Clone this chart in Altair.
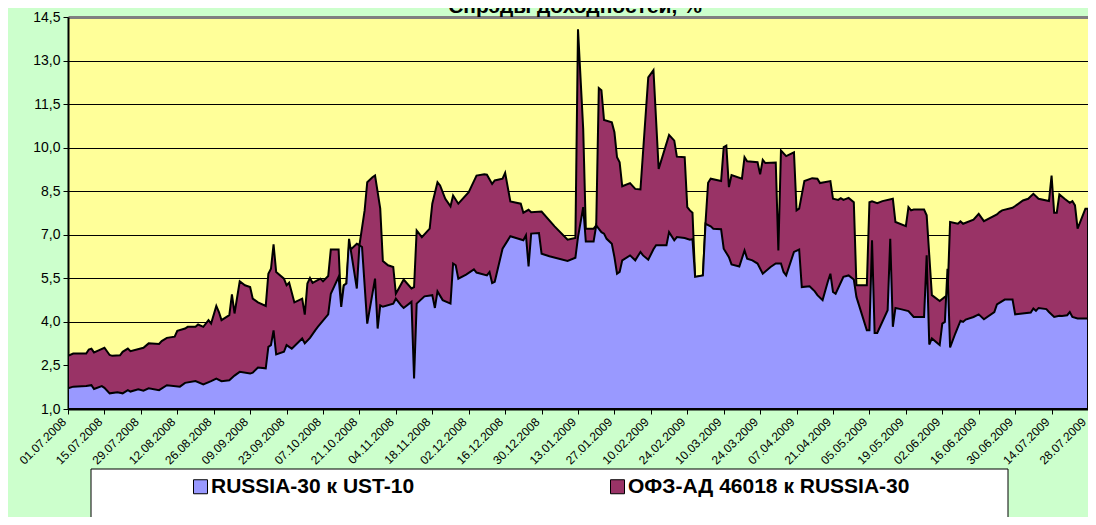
import altair as alt
import pandas as pd

TITLE = "Спрэды доходностей, %"
SERIES = ["RUSSIA-30 к UST-10", "ОФЗ-АД 46018 к RUSSIA-30"]
COLORS = ["#9999FF", "#993366"]

TICK_LABELS = ["01.07.2008", "15.07.2008", "29.07.2008", "12.08.2008", "26.08.2008",
               "09.09.2008", "23.09.2008", "07.10.2008", "21.10.2008", "04.11.2008",
               "18.11.2008", "02.12.2008", "16.12.2008", "30.12.2008", "13.01.2009",
               "27.01.2009", "10.02.2009", "24.02.2009", "10.03.2009", "24.03.2009",
               "07.04.2009", "21.04.2009", "05.05.2009", "19.05.2009", "02.06.2009",
               "16.06.2009", "30.06.2009", "14.07.2009", "28.07.2009"]

Y_TICKS = [1.0, 2.5, 4.0, 5.5, 7.0, 8.5, 10.0, 11.5, 13.0, 14.5]

# upper outline (top of the maroon band)
top_dates = [
    "2008-07-01", "2008-07-03", "2008-07-08", "2008-07-09", "2008-07-10", "2008-07-11",
    "2008-07-13", "2008-07-15", "2008-07-17", "2008-07-18", "2008-07-21", "2008-07-22",
    "2008-07-24", "2008-07-25", "2008-07-30", "2008-08-01", "2008-08-05", "2008-08-06",
    "2008-08-08", "2008-08-11", "2008-08-12", "2008-08-15", "2008-08-16", "2008-08-19",
    "2008-08-20", "2008-08-22", "2008-08-24", "2008-08-25", "2008-08-27", "2008-08-28",
    "2008-08-29", "2008-09-01", "2008-09-02", "2008-09-03", "2008-09-05", "2008-09-07",
    "2008-09-09", "2008-09-10", "2008-09-12", "2008-09-15", "2008-09-16", "2008-09-17",
    "2008-09-18", "2008-09-19", "2008-09-22", "2008-09-23", "2008-09-24", "2008-09-26",
    "2008-09-29", "2008-09-30", "2008-10-01", "2008-10-02", "2008-10-03", "2008-10-06",
    "2008-10-07", "2008-10-09", "2008-10-10", "2008-10-13", "2008-10-14", "2008-10-15",
    "2008-10-16", "2008-10-17", "2008-10-18", "2008-10-20", "2008-10-21", "2008-10-23",
    "2008-10-24", "2008-10-26", "2008-10-27", "2008-10-29", "2008-10-30", "2008-11-01",
    "2008-11-03", "2008-11-04", "2008-11-07", "2008-11-10", "2008-11-11", "2008-11-12",
    "2008-11-14", "2008-11-17", "2008-11-18", "2008-11-20", "2008-11-21", "2008-11-23",
    "2008-11-25", "2008-11-26", "2008-11-28", "2008-12-02", "2008-12-03", "2008-12-05",
    "2008-12-08", "2008-12-09", "2008-12-11", "2008-12-12", "2008-12-15", "2008-12-16",
    "2008-12-18", "2008-12-22", "2008-12-23", "2008-12-25", "2008-12-26", "2008-12-30",
    "2009-01-04", "2009-01-09", "2009-01-12", "2009-01-13", "2009-01-15", "2009-01-16",
    "2009-01-19", "2009-01-20", "2009-01-21", "2009-01-22", "2009-01-23", "2009-01-26",
    "2009-01-27", "2009-01-28", "2009-01-29", "2009-01-30", "2009-02-02", "2009-02-04",
    "2009-02-06", "2009-02-09", "2009-02-11", "2009-02-13", "2009-02-17", "2009-02-19",
    "2009-02-20", "2009-02-23", "2009-02-24", "2009-02-25", "2009-02-26", "2009-02-27",
    "2009-03-02", "2009-03-03", "2009-03-04", "2009-03-05", "2009-03-09", "2009-03-10",
    "2009-03-11", "2009-03-12", "2009-03-13", "2009-03-17", "2009-03-18", "2009-03-19",
    "2009-03-23", "2009-03-24", "2009-03-25", "2009-03-26", "2009-03-30", "2009-03-31",
    "2009-04-01", "2009-04-03", "2009-04-06", "2009-04-07", "2009-04-08", "2009-04-10",
    "2009-04-13", "2009-04-15", "2009-04-16", "2009-04-20", "2009-04-21", "2009-04-23",
    "2009-04-24", "2009-04-25", "2009-04-27", "2009-04-29", "2009-04-30", "2009-05-04",
    "2009-05-05", "2009-05-06", "2009-05-08", "2009-05-10", "2009-05-14", "2009-05-15",
    "2009-05-19", "2009-05-20", "2009-05-21", "2009-05-22", "2009-05-26", "2009-05-27",
    "2009-05-29", "2009-06-01", "2009-06-03", "2009-06-04", "2009-06-05", "2009-06-08",
    "2009-06-09", "2009-06-10", "2009-06-14", "2009-06-16", "2009-06-18", "2009-06-23",
    "2009-06-24", "2009-06-25", "2009-06-29", "2009-06-30", "2009-07-03", "2009-07-05",
    "2009-07-07", "2009-07-09", "2009-07-13", "2009-07-14", "2009-07-15", "2009-07-16",
    "2009-07-17", "2009-07-19", "2009-07-21", "2009-07-22", "2009-07-23", "2009-07-24",
    "2009-07-27", "2009-07-28",
]
top_values = [
    2.83, 2.91, 2.91, 3.05, 3.08, 2.95,
    3.03, 3.11, 2.86, 2.83, 2.85, 2.97,
    3.08, 2.99, 3.11, 3.26, 3.24, 3.34,
    3.45, 3.49, 3.69, 3.77, 3.83, 3.83,
    3.91, 3.83, 4.06, 3.94, 4.55, 4.34,
    4.06, 4.23, 4.95, 4.29, 5.40, 5.26,
    5.20, 4.80, 4.67, 4.55, 5.66, 5.83,
    6.67, 5.72, 5.49, 5.26, 5.35, 4.67,
    4.80, 4.25, 5.32, 5.51, 5.34, 5.49,
    5.40, 5.58, 6.49, 6.49, 4.52, 5.26,
    5.32, 6.60, 6.52, 6.69, 6.64, 7.84,
    8.81, 8.98, 9.04, 7.90, 6.10, 5.95,
    5.89, 4.97, 5.46, 5.15, 5.20, 7.15,
    6.92, 7.21, 8.07, 8.81, 8.70, 8.24,
    7.98, 8.35, 8.07, 8.47, 8.66, 9.04,
    9.08, 9.07, 8.75, 8.87, 8.93, 9.13,
    8.15, 8.07, 7.76, 7.86, 7.78, 7.80,
    7.29, 6.83, 6.89, 14.08, 10.64, 7.21,
    7.21, 7.32, 12.05, 11.98, 10.95, 10.87,
    10.53, 9.67, 9.50, 8.67, 8.78, 8.58,
    8.56, 12.42, 12.67, 9.27, 10.44, 10.24,
    9.69, 9.67, 7.95, 7.84, 7.76, 5.55,
    5.60, 7.40, 8.79, 8.93, 8.85, 10.02,
    10.07, 8.64, 9.06, 8.93, 9.67, 9.53,
    9.50, 9.08, 9.58, 9.47, 9.49, 6.46,
    9.90, 9.71, 9.84, 7.84, 7.90, 8.85,
    8.95, 8.93, 8.78, 8.85, 8.24, 8.20,
    8.26, 8.20, 8.27, 8.12, 5.26, 5.26,
    8.12, 8.15, 8.09, 8.16, 8.24, 7.44,
    7.30, 7.95, 7.84, 7.87, 7.87, 7.67,
    4.92, 4.72, 4.86, 4.90, 7.44, 7.38,
    7.46, 7.38, 7.52, 7.72, 7.47, 7.70,
    7.78, 7.84, 7.93, 7.99, 8.18, 8.24,
    8.41, 8.24, 8.16, 9.04, 7.76, 7.76,
    8.39, 8.24, 8.10, 8.16, 8.01, 7.21,
    7.90, 7.90,
]

# RUSSIA-30 spread over UST-10 (lavender area)
bottom_dates = [
    "2008-07-01", "2008-07-03", "2008-07-08", "2008-07-10", "2008-07-11", "2008-07-14",
    "2008-07-15", "2008-07-17", "2008-07-20", "2008-07-22", "2008-07-24", "2008-07-25",
    "2008-07-28", "2008-07-30", "2008-08-01", "2008-08-05", "2008-08-08", "2008-08-13",
    "2008-08-15", "2008-08-19", "2008-08-22", "2008-08-25", "2008-08-27", "2008-08-29",
    "2008-09-01", "2008-09-03", "2008-09-05", "2008-09-09", "2008-09-10", "2008-09-12",
    "2008-09-15", "2008-09-16", "2008-09-17", "2008-09-18", "2008-09-19", "2008-09-22",
    "2008-09-23", "2008-09-25", "2008-09-29", "2008-09-30", "2008-10-02", "2008-10-04",
    "2008-10-05", "2008-10-09", "2008-10-10", "2008-10-13", "2008-10-14", "2008-10-15",
    "2008-10-16", "2008-10-17", "2008-10-20", "2008-10-21", "2008-10-22", "2008-10-24",
    "2008-10-27", "2008-10-28", "2008-10-29", "2008-10-30", "2008-11-03", "2008-11-04",
    "2008-11-06", "2008-11-07", "2008-11-10", "2008-11-11", "2008-11-12", "2008-11-15",
    "2008-11-18", "2008-11-19", "2008-11-20", "2008-11-22", "2008-11-25", "2008-11-26",
    "2008-11-27", "2008-11-28", "2008-12-01", "2008-12-04", "2008-12-05", "2008-12-09",
    "2008-12-10", "2008-12-11", "2008-12-12", "2008-12-15", "2008-12-18", "2008-12-23",
    "2008-12-24", "2008-12-25", "2008-12-26", "2008-12-29", "2008-12-30", "2009-01-02",
    "2009-01-09", "2009-01-12", "2009-01-13", "2009-01-15", "2009-01-16", "2009-01-19",
    "2009-01-20", "2009-01-22", "2009-01-23", "2009-01-24", "2009-01-26", "2009-01-27",
    "2009-01-28", "2009-01-29", "2009-01-30", "2009-02-02", "2009-02-04", "2009-02-06",
    "2009-02-07", "2009-02-09", "2009-02-11", "2009-02-12", "2009-02-16", "2009-02-17",
    "2009-02-19", "2009-02-20", "2009-02-23", "2009-02-25", "2009-02-26", "2009-02-27",
    "2009-03-02", "2009-03-03", "2009-03-05", "2009-03-06", "2009-03-09", "2009-03-10",
    "2009-03-12", "2009-03-13", "2009-03-16", "2009-03-18", "2009-03-19", "2009-03-21",
    "2009-03-23", "2009-03-25", "2009-03-28", "2009-03-30", "2009-04-01", "2009-04-02",
    "2009-04-03", "2009-04-06", "2009-04-08", "2009-04-09", "2009-04-12", "2009-04-14",
    "2009-04-15", "2009-04-17", "2009-04-19", "2009-04-20", "2009-04-21", "2009-04-22",
    "2009-04-25", "2009-04-27", "2009-04-29", "2009-04-30", "2009-05-04", "2009-05-05",
    "2009-05-06", "2009-05-07", "2009-05-08", "2009-05-12", "2009-05-13", "2009-05-14",
    "2009-05-15", "2009-05-17", "2009-05-20", "2009-05-22", "2009-05-26", "2009-05-27",
    "2009-05-28", "2009-05-29", "2009-06-01", "2009-06-02", "2009-06-03", "2009-06-04",
    "2009-06-05", "2009-06-07", "2009-06-09", "2009-06-10", "2009-06-11", "2009-06-14",
    "2009-06-16", "2009-06-18", "2009-06-22", "2009-06-23", "2009-06-26", "2009-06-29",
    "2009-06-30", "2009-07-06", "2009-07-07", "2009-07-08", "2009-07-09", "2009-07-12",
    "2009-07-13", "2009-07-15", "2009-07-17", "2009-07-18", "2009-07-20", "2009-07-21",
    "2009-07-22", "2009-07-24", "2009-07-28",
]
bottom_values = [
    1.71, 1.77, 1.79, 1.82, 1.69, 1.79,
    1.73, 1.54, 1.58, 1.54, 1.65, 1.60,
    1.68, 1.63, 1.71, 1.65, 1.82, 1.77,
    1.90, 1.96, 1.85, 1.96, 2.05, 1.96,
    1.99, 2.15, 2.28, 2.22, 2.25, 2.43,
    2.40, 3.14, 3.20, 3.71, 2.88, 2.97,
    3.20, 3.08, 3.43, 3.26, 3.45, 3.71,
    3.83, 4.26, 4.97, 5.55, 4.52, 5.26,
    5.32, 6.86, 5.15, 6.64, 6.58, 3.94,
    5.49, 3.77, 4.57, 4.52, 4.63, 4.80,
    4.57, 4.48, 4.69, 2.05, 4.63, 4.88,
    4.92, 4.48, 5.05, 4.75, 4.63, 6.01,
    5.95, 5.49, 5.63, 5.81, 5.70, 5.60,
    5.72, 5.34, 5.38, 6.52, 6.95, 6.81,
    6.98, 5.91, 7.04, 7.06, 6.35, 6.26,
    6.10, 6.21, 6.92, 7.95, 6.77, 6.77,
    7.32, 7.09, 7.04, 6.86, 6.69, 6.23,
    5.66, 5.72, 6.12, 6.29, 6.12, 6.41,
    6.29, 6.14, 6.50, 6.64, 6.64, 7.09,
    6.81, 6.92, 6.89, 6.83, 6.85, 5.55,
    5.60, 7.38, 7.29, 7.21, 7.19, 6.52,
    6.23, 5.98, 5.91, 6.46, 6.18, 6.12,
    6.01, 5.66, 5.89, 6.01, 6.01, 5.72,
    5.60, 6.41, 6.49, 5.20, 5.23, 5.05,
    4.92, 4.75, 5.38, 5.66, 5.03, 4.97,
    5.55, 5.60, 5.46, 4.86, 3.71, 3.71,
    6.81, 3.62, 3.62, 4.40, 6.86, 3.83,
    4.48, 4.44, 4.37, 4.17, 4.17, 6.29,
    3.22, 3.43, 3.20, 3.94, 4.00, 5.83,
    3.12, 3.60, 4.04, 4.00, 4.08, 4.17,
    4.26, 4.09, 4.34, 4.60, 4.77, 4.77,
    4.26, 4.32, 4.46, 4.38, 4.48, 4.44,
    4.34, 4.17, 4.21, 4.20, 4.23, 4.34,
    4.17, 4.12, 4.12,
]

FONT = "Liberation Sans, Arial"

top_df = pd.DataFrame({"date": pd.to_datetime(top_dates), "value": top_values, "series": SERIES[1]})
bot_df = pd.DataFrame({"date": pd.to_datetime(bottom_dates), "value": bottom_values, "series": SERIES[0]})


def dt(label):
    d, m, y = label.split(".")
    return alt.DateTime(year=int(y), month=int(m), date=int(d))


x_enc = alt.X(
    "date:T",
    scale=alt.Scale(domain=[dt(TICK_LABELS[0]), dt(TICK_LABELS[-1])]),
    axis=alt.Axis(
        values=[dt(t) for t in TICK_LABELS],
        format="%d.%m.%Y",
        labelAngle=-45,
        labelFlush=False,
        labelOverlap=False,
        labelFont=FONT,
        labelFontSize=12,
        labelColor="black",
        labelPadding=2,
        labelOffset=-8,
        grid=False,
        domainColor="black",
        domainWidth=2,
        tickColor="black",
        tickSize=5,
        title=None,
    ),
)

y_enc = alt.Y(
    "value:Q",
    stack=None,
    scale=alt.Scale(domain=[Y_TICKS[0], Y_TICKS[-1]], nice=False, zero=False),
    axis=alt.Axis(
        values=Y_TICKS,
        labelExpr="replace(format(datum.value, '.1f'), '.', ',')",
        labelFont=FONT,
        labelFontSize=14,
        labelColor="black",
        labelPadding=3,
        grid=True,
        gridColor={"condition": {"test": "datum.value >= 14.5", "value": "#808080"}, "value": "black"},
        gridWidth={"condition": {"test": "datum.value >= 14.5", "value": 3}, "value": 1},
        domainColor="black",
        domainWidth=2,
        tickColor="black",
        tickSize=5,
        title=None,
    ),
)

color_enc = alt.Color(
    "series:N",
    scale=alt.Scale(domain=SERIES, range=COLORS),
    legend=alt.Legend(
        title=None,
        orient="none",
        legendX=122,
        legendY=459,
        direction="horizontal",
        symbolType="square",
        symbolSize=196,
        symbolStrokeColor="black",
        symbolStrokeWidth=1,
        symbolOpacity=1,
        labelFont=FONT,
        labelFontSize=21,
        labelFontWeight="bold",
        labelColor="black",
        labelOffset=0,
        labelLimit=500,
        columnPadding=192,
        padding=0,
    ),
)

legend_box = alt.Chart(pd.DataFrame({"box": [0]})).mark_rect(
    fill="white", stroke="black", strokeWidth=1
).encode(
    x=alt.value(23), x2=alt.value(940), y=alt.value(452), y2=alt.value(530)
)

title_text = alt.Chart(pd.DataFrame({"title": [TITLE]})).mark_text(
    font=FONT, fontSize=21, fontWeight="bold", color="black",
    align="center", baseline="alphabetic"
).encode(text="title:N", x=alt.value(507), y=alt.value(-4))

top_area = alt.Chart(top_df).mark_area(
    stroke="black", strokeWidth=2, opacity=1, fillOpacity=1, clip=True
).encode(x=x_enc, y=y_enc, color=color_enc)

bottom_area = alt.Chart(bot_df).mark_area(
    stroke="black", strokeWidth=2, opacity=1, fillOpacity=1, clip=True
).encode(x=x_enc, y=y_enc, color=color_enc)

chart = alt.layer(legend_box, top_area, bottom_area, title_text).properties(
    width=1020,
    height=392,
    autosize=alt.AutoSizeParams(type="none"),
    padding={"left": 60, "top": 9, "right": 0, "bottom": 108},
).configure(
    background="#CCFFCC",
).configure_view(
    fill="#FFFF99",
    stroke=None,
)

chart.save("out.html", embed_options={"renderer": "svg", "actions": False})
